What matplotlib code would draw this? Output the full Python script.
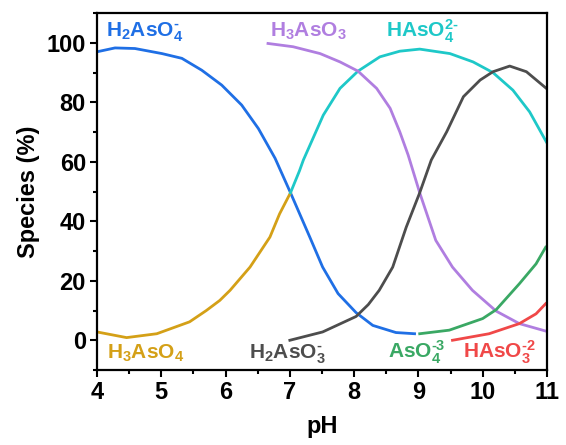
import matplotlib
matplotlib.use("Agg")
import matplotlib.pyplot as plt
from matplotlib.ticker import MultipleLocator

plt.rcParams['font.family'] = ['Liberation Sans', 'DejaVu Sans']
plt.rcParams['mathtext.fontset'] = 'custom'
plt.rcParams['mathtext.rm'] = 'Liberation Sans:bold'
plt.rcParams['mathtext.bf'] = 'Liberation Sans:bold'
plt.rcParams['mathtext.it'] = 'Liberation Sans:bold'
plt.rcParams['mathtext.fallback'] = 'stixsans'

# ---- data ----
ph_h2aso4 = [4.0, 4.28, 4.59, 5.01, 5.32, 5.63, 5.94, 6.25, 6.51, 6.77, 7.01, 7.31, 7.51, 7.75, 8.03, 8.29, 8.65, 8.94]
y_h2aso4 = [97.0, 98.3, 98.1, 96.4, 94.8, 90.8, 85.8, 79.1, 71.2, 61.2, 49.6, 34.7, 24.6, 15.7, 9.3, 5.0, 2.6, 2.2]

ph_h3aso4 = [4.0, 4.46, 4.93, 5.44, 5.70, 5.91, 6.07, 6.38, 6.69, 6.84, 7.01]
y_h3aso4 = [2.8, 0.9, 2.2, 6.2, 10.0, 13.4, 16.8, 24.6, 34.7, 42.5, 49.6]

ph_haso4 = [7.01, 7.15, 7.21, 7.52, 7.78, 8.06, 8.40, 8.71, 9.02, 9.49, 9.85, 10.16, 10.47, 10.73, 10.99]
y_haso4 = [49.6, 57.0, 60.6, 75.7, 84.7, 90.5, 95.3, 97.2, 97.9, 96.4, 93.6, 90.0, 84.1, 76.8, 66.7]

ph_h3aso3 = [6.66, 7.05, 7.47, 7.78, 8.06, 8.35, 8.56, 8.71, 8.84, 9.02, 9.27, 9.53, 9.84, 10.21, 10.57, 10.98]
y_h3aso3 = [99.8, 98.7, 96.4, 93.6, 90.5, 84.7, 78.0, 70.1, 62.3, 49.6, 33.6, 24.6, 16.8, 9.8, 5.6, 3.1]

ph_h2aso3 = [7.0, 7.51, 8.03, 8.22, 8.39, 8.60, 8.81, 9.02, 9.20, 9.44, 9.70, 9.96, 10.16, 10.42, 10.68, 10.99]
y_h2aso3 = [0.0, 2.8, 8.0, 12.0, 16.8, 24.6, 38.0, 49.6, 60.6, 70.1, 81.9, 87.5, 90.3, 92.2, 90.3, 84.7]

ph_aso4 = [9.02, 9.48, 10.0, 10.21, 10.57, 10.83, 10.98]
y_aso4 = [2.2, 3.4, 7.3, 10.3, 19.0, 25.7, 31.3]

ph_haso3 = [9.53, 10.1, 10.57, 10.83, 10.98]
y_haso3 = [0.0, 2.2, 5.6, 8.9, 12.3]

x_ticks = [4, 5, 6, 7, 8, 9, 10, 11]
y_ticks = [0, 20, 40, 60, 80, 100]

c_blue = '#1f6fe5'
c_gold = '#d4a017'
c_cyan = '#1ec8c8'
c_purple = '#b07ee0'
c_gray = '#4d4d4d'
c_green = '#3aa864'
c_red = '#f04848'

fig = plt.figure(figsize=(5.66, 4.45), dpi=100)
ax = fig.add_axes([0.1714, 0.1685, 0.795, 0.802])

lw = 2.0
ax.plot(ph_h2aso4, y_h2aso4, color=c_blue, lw=lw)
ax.plot(ph_h3aso4, y_h3aso4, color=c_gold, lw=lw)
ax.plot(ph_haso4, y_haso4, color=c_cyan, lw=lw)
ax.plot(ph_h3aso3, y_h3aso3, color=c_purple, lw=lw)
ax.plot(ph_h2aso3, y_h2aso3, color=c_gray, lw=lw)
ax.plot(ph_aso4, y_aso4, color=c_green, lw=lw)
ax.plot(ph_haso3, y_haso3, color=c_red, lw=lw)

ax.set_xlim(4, 11)
ax.set_ylim(-10, 110)
ax.set_xticks(x_ticks)
ax.set_yticks(y_ticks)
ax.xaxis.set_minor_locator(MultipleLocator(0.5))
ax.yaxis.set_minor_locator(MultipleLocator(10))
ax.tick_params(which='major', direction='out', length=5, width=1.5, labelsize=17,
               top=False, right=False, pad=3)
ax.tick_params(which='minor', direction='out', length=3, width=1.5, top=False, right=False)
for lab in ax.get_xticklabels() + ax.get_yticklabels():
    lab.set_fontweight('bold')
for s in ax.spines.values():
    s.set_linewidth(1.6)

ax.set_xlabel('pH', fontsize=17, fontweight='bold', labelpad=8)
ax.set_ylabel('Species (%)', fontsize=17, fontweight='bold', labelpad=5)

fs = 15
hy = '\u2010'
ax.text(4.14, 102, r'$\mathrm{H_2AsO_4^{%s}}$' % hy, color=c_blue, fontsize=fs, va='baseline')
ax.text(6.69, 102, r'$\mathrm{H_3AsO_3}$', color=c_purple, fontsize=fs, va='baseline')
ax.text(8.49, 102, r'$\mathrm{HAsO_4^{2%s}}$' % hy, color=c_cyan, fontsize=fs, va='baseline')
ax.text(4.15, -6.1, r'$\mathrm{H_3AsO_4}$', color=c_gold, fontsize=fs, va='baseline')
ax.text(6.36, -6.1, r'$\mathrm{H_2AsO_3^{%s}}$' % hy, color=c_gray, fontsize=fs, va='baseline')
ax.text(8.53, -6.1, r'$\mathrm{AsO_4^{%s3}}$' % hy, color=c_green, fontsize=fs, va='baseline')
ax.text(9.70, -6.1, r'$\mathrm{HAsO_3^{%s2}}$' % hy, color=c_red, fontsize=fs, va='baseline')

fig.savefig('out.png', dpi=100)
